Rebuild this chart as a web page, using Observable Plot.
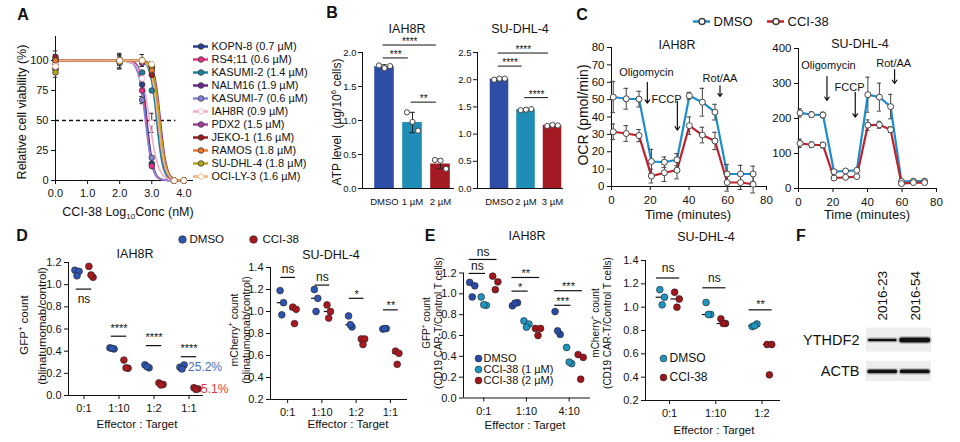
<!DOCTYPE html>
<html><head><meta charset="utf-8">
<script src="https://cdn.jsdelivr.net/npm/d3@7"></script>
<script src="https://cdn.jsdelivr.net/npm/@observablehq/plot@0.6"></script>
<style>
body{margin:0;background:#fff;}
#fig{position:relative;width:960px;height:442px;overflow:hidden;font-family:Arial,"Liberation Sans",Helvetica,sans-serif;color:#111;background:#fff;}
#fig svg{position:absolute;overflow:visible;}
.lab{position:absolute;white-space:nowrap;line-height:1;}
.lab sub,.lab sup{font-size:65%;line-height:0;}
</style></head><body><div id="fig"></div><script>
// ================= DATA =================
// Panel A – dose response
const A_lines = ["KOPN-8","RS4;11","KASUMI-2","NALM16","KASUMI-7","IAH8R","PDX2","JEKO-1","RAMOS","SU-DHL-4","OCI-LY-3"];
const A_ic50 = ["0.7","0.6","1.4","1.9","0.6","0.9","1.5","1.6","1.8","1.8","1.6"];
const A_curveX = [0,2,2.4,2.5,2.6,2.7,2.8,2.9,3.0,3.1,3.2,3.3,3.4,3.5,3.6,3.8,4];
const A_curveY = [
  [100,100,99,97.4,93,82.5,62.8,37.2,17.5,7,2.6,1,0.4,0.1,0,0,0],
  [100,100,98.7,96.4,90.6,77.7,55.2,30.3,13.4,5.2,1.9,0.7,0.3,0.1,0,0,0],
  [100,100,100,99.9,99.7,99,97.4,93,82.5,62.8,37.2,17.5,7,2.6,1,0.1,0],
  [100,100,100,100,99.9,99.7,99.2,97.9,94.3,85.4,67.4,42.3,20.6,8.5,3.2,0.4,0],
  [100,100,97.5,94.1,86.3,71.5,50,28.5,13.7,5.9,2.5,1,0.4,0.2,0,0,0],
  [100,100,98,96,91.9,84.5,72.3,55.5,37.4,22.2,12,6.1,3,1.5,0.7,0.2,0],
  [100,100,100,100,99.8,99.4,98.4,95.6,88.8,74,50,26,11.2,4.4,1.6,0.2,0],
  [100,100,100,99.9,99.8,99.5,98.7,96.4,90.6,77.7,55.2,30.3,13.4,5.2,1.9,0.2,0],
  [100,100,100,100,99.9,99.7,99,97.4,93,82.5,62.8,37.2,17.5,7,2.6,0.3,0],
  [100,100,100,100,99.9,99.6,98.9,97,92.2,80.7,60.2,34.6,16,6.4,2.4,0.3,0],
  [100,100,100,99.9,99.7,99.2,97.9,94.8,87.3,72.4,50,27.6,12.7,5.2,2.1,0.3,0]
];
const A_doseX = [0,2,2.7,3,3.7,4];
const A_pointY = [
  [101,100,80,14,0,0],[97,100,75,12,0,0],[100,98,90,75,0,0],[93,100,100,95,0,0],
  [100,100,67,19,0,0],[98,99,85,48,0,0],[93,100,98,94,0,0],[103,100,100,88,0,0],
  [100,100,100,92,0,0],[90,99,100,96,0,0],[95,100,100,97,0,0]
];
const A_pointErr = [
  [4,6,0,0,0,0],[0,4,5,0,0,0],[0,5,0,0,0,0],[0,0,0,4,0,0],[0,0,3,0,0,0],[0,0,0,8,0,0],
  [0,0,0,0,0,0],[5,0,5,0,0,0],[0,0,0,0,0,0],[4,6,0,0,0,0],[0,0,0,0,0,0]
];

// Panel B – ATP level
const B_iah_cats = ["DMSO","1 µM","2 µM"];
const B_iah_mean = [1.79,0.97,0.36];
const B_iah_sd = [0.03,0.15,0.07];
const B_iah_reps = [[1.81,1.77,1.80],[1.12,0.98,0.85],[0.42,0.41,0.29]];
const B_iah_sigFrom = [0,0,1];
const B_iah_sigTo = [2,1,2];
const B_iah_sigY = [2.11,1.92,1.27];
const B_iah_sigLab = ["****","***","**"];
const B_su_cats = ["DMSO","2 µM","3 µM"];
const B_su_mean = [2.01,1.45,1.16];
const B_su_sd = [0.02,0.015,0.02];
const B_su_reps = [[2.00,2.02,2.02],[1.44,1.45,1.46],[1.15,1.17,1.16]];
const B_su_sigFrom = [0,0,1];
const B_su_sigTo = [2,1,2];
const B_su_sigY = [2.49,2.25,1.67];
const B_su_sigLab = ["****","****","****"];

// Panel C – OCR
const C_series = ["DMSO","CCI-38"];
const C_time = [0.9,7.6,14.2,20.6,27.3,33.8,40.2,46.9,53.4,59.7,66.6,73.1];
const C_iah_dmso = [51.5,50.5,50.3,14.4,14.0,15.4,52.2,48.5,42.8,7.2,7.2,7.2];
const C_iah_dmsoErr = [9,6,4.5,7,3,3.5,2,8,4.5,5.5,5,4.5];
const C_iah_cci = [31.5,30.5,29.3,6.0,7.9,9.4,35.0,29.6,26.2,2.3,2.3,1.3];
const C_iah_cciErr = [4.5,4.5,3.5,4,5,5,5,4.5,5,5,4,5];
const C_su_dmso = [216,211,210,48,50,52,268,261,234,20,21,21];
const C_su_dmsoErr = [12,8,8,5,4,4,50,40,35,8,5,5];
const C_su_cci = [129,125,124,30,32,34,181,182,168,14,17,17];
const C_su_cciErr = [12,8,8,4,4,4,15,10,8,5,3,3];
const C_drugs = ["Oligomycin","FCCP","Rot/AA"];
const C_iah_arrowX = [18.5,34,56];
const C_iah_arrowTop = [60,49,58];
const C_iah_arrowTip = [48,32.5,51.8];
const C_iah_labelX = [18,28.4,56];
const C_iah_labelY = [65.6,50.3,62.4];
const C_su_arrowX = [16.5,32.9,55.7];
const C_su_arrowTop = [320,275,340];
const C_su_arrowTip = [252,204,300];
const C_su_labelX = [17.4,29.6,55.2];
const C_su_labelY = [352,288,357];

// Panel D – blinatumomab killing
const D_groups = ["DMSO","CCI-38"];
const D_iah_ratios = ["0:1","1:10","1:2","1:1"];
const D_iah_dmso = [[1.13,1.12,1.08],[0.43,0.42,0.425],[0.277,0.25,0.26],[0.255,0.275,0.24]];
const D_iah_cci = [[1.165,1.066,1.087],[0.32,0.246,0.25],[0.114,0.10,0.095],[0.07,0.06,0.055]];
const D_iah_sigY = [0.96,0.535,0.45,0.35];
const D_iah_sigLab = ["ns","****","****","****"];
const D_iah_pct = ["25.2%","5.1%"];
const D_su_ratios = ["0:1","1:10","1:2","1:1"];
const D_su_dmso = [[1.19,1.08,0.97],[1.2,1.12,1.0],[0.96,0.86,0.88],[0.84,0.845,0.845]];
const D_su_cci = [[1.04,1.02,0.89],[1.06,1.0,0.94],[0.75,0.75,0.70],[0.64,0.62,0.52]];
const D_su_sigY = [1.31,1.24,1.12,1.015];
const D_su_sigLab = ["ns","ns","*","**"];

// Panel E – CAR-T killing
const E_iah_groups = ["DMSO","CCI-38 (1 µM)","CCI-38 (2 µM)"];
const E_iah_ratios = ["0:1","1:10","4:10"];
const E_iah_dmso = [[1.11,1.077,0.97],[0.885,0.915,0.91],[0.83,0.61,0.645]];
const E_iah_cci1 = [[0.97,0.89,0.895],[0.74,0.71,0.68],[0.485,0.33,0.345]];
const E_iah_cci2 = [[1.17,1.115,1.04],[0.667,0.667,0.60],[0.417,0.39,0.18]];
const E_iah_sigGroup = [0,0,1,1,2,2];
const E_iah_sigTo = [2,1,2,1,2,1];
const E_iah_sigY = [1.33,1.196,1.157,1.026,1.03,0.89];
const E_iah_sigLab = ["ns","ns","**","*","***","***"];
const E_su_groups = ["DMSO","CCI-38"];
const E_su_ratios = ["0:1","1:10","1:2"];
const E_su_dmso = [[1.15,1.085,1.02],[1.04,0.937,0.937],[0.834,0.856,0.84]];
const E_su_cci = [[1.128,1.07,1.0],[0.90,0.86,0.86],[0.68,0.68,0.42]];
const E_su_sigY = [1.25,1.166,0.977];
const E_su_sigLab = ["ns","ns","**"];

// Panel F – western blot
const F_lanes = ["2016-23","2016-54"];
const F_proteins = ["YTHDF2","ACTB"];
const F_intensity = [[0.45,1.0],[0.72,0.74]];

// ================= STYLE =================
const FONT = 'Arial, "Liberation Sans", Helvetica, sans-serif';
const palA = ["#2b3f93","#e8308a","#1b84a6","#6d2b8f","#8585d6","#f5a9c8","#a0409e","#9c1c24","#ee7a2a","#b5a812","#f6b27a"];
const openA = new Set(["IAH8R","OCI-LY-3"]);
const palB = ["#2e4da6","#1f8db5","#a31a22"];
const palC = ["#1b8ed0","#c1212b"];
const palD = ["#2d55b0","#a8181f"];
const palE1 = ["#2a4aa8","#1f96c0","#a0141b"];
const palE2 = ["#1f96c0","#a0141b"];

const fig = document.getElementById("fig");
function place(opts, left, top) {
  const {fontSize = 11, ...rest} = opts;
  const svg = Plot.plot({...rest, style: {fontFamily: FONT, fontSize: fontSize + "px", background: "transparent", overflow: "visible", color: "#111"}});
  svg.style.position = "absolute";
  svg.style.left = left + "px";
  svg.style.top = top + "px";
  fig.appendChild(svg);
  return svg;
}
function label(html, x, y, o = {}) {
  const d = document.createElement("div");
  d.className = "lab";
  d.innerHTML = html;
  d.style.left = x + "px";
  d.style.top = y + "px";
  d.style.fontSize = (o.size || 12) + "px";
  if (o.weight) d.style.fontWeight = o.weight;
  if (o.color) d.style.color = o.color;
  const ax = o.anchor === "start" ? "0" : o.anchor === "end" ? "-100%" : "-50%";
  d.style.transform = `translate(${ax},-50%)` + (o.rotate ? ` rotate(${o.rotate}deg)` : "");
  fig.appendChild(d);
}

// ================= PANEL A =================
{
  const curves = A_lines.flatMap((name, i) => A_curveX.map((x, j) => ({name, i, x, y: A_curveY[i][j]})));
  const pts = A_lines.flatMap((name, i) => A_doseX.map((x, j) => ({name, i, x, y: A_pointY[i][j], e: A_pointErr[i][j]})));
  const eb = pts.filter(d => d.e > 0);
  place({
    width: 200, height: 215, marginLeft: 55, marginRight: 7, marginTop: 36, marginBottom: 35, fontSize: 11,
    x: {domain: [0, 4.3], ticks: [0,1,2,3,4], tickSize: 4, tickPadding: 5, label: null},
    y: {domain: [0, 120], ticks: [0,25,50,75,100], tickSize: 4, tickPadding: 3, label: null},
    marks: [
      Plot.ruleX([0]), Plot.ruleY([0]),
      Plot.ruleY([50], {x1: 0, x2: 3.75, strokeDasharray: "4,3", strokeWidth: 1.3}),
      Plot.ruleX(eb, {x: "x", y1: d => d.y - d.e, y2: d => d.y + d.e, stroke: "#333"}),
      Plot.ruleY(eb, {y: d => d.y + d.e, x1: d => d.x - 0.07, x2: d => d.x + 0.07, stroke: "#333"}),
      Plot.ruleY(eb, {y: d => d.y - d.e, x1: d => d.x - 0.07, x2: d => d.x + 0.07, stroke: "#333"}),
      Plot.line(curves, {x: "x", y: "y", z: "name", stroke: d => palA[d.i], strokeWidth: 1.6, curve: "monotone-x"}),
      Plot.dot(pts, {x: "x", y: "y", r: 2.8, fill: d => openA.has(d.name) ? "white" : palA[d.i], stroke: d => openA.has(d.name) ? palA[d.i] : "#333", strokeWidth: 0.8})
    ]
  }, 0, 0);
  // legend
  place({
    width: 130, height: 146, marginLeft: 0, marginRight: 0, marginTop: 7, marginBottom: 7, fontSize: 11,
    x: {domain: [0, 130], axis: null},
    y: {type: "point", domain: A_lines, padding: 0, axis: null},
    marks: [
      Plot.ruleY(A_lines, {y: d => d, x1: 3, x2: 18, stroke: (d, i) => palA[i], strokeWidth: 2.5}),
      Plot.dot(A_lines, {y: d => d, x: 10.5, r: 2.8, fill: (d, i) => openA.has(d) ? "white" : palA[i], stroke: (d, i) => openA.has(d) ? palA[i] : "#333", strokeWidth: 0.8}),
      Plot.text(A_lines, {y: d => d, x: 21, text: (d, i) => `${d} (${A_ic50[i]} µM)`, textAnchor: "start", fontSize: 11})
    ]
  }, 190, 38);
  label("<b>A</b>", 23, 15, {size: 16});
  label("Relative cell viability (%)", 22, 112, {size: 12.5, rotate: -90});
  label("CCI-38 Log<sub>10</sub>Conc (nM)", 128, 212, {size: 12.5});
}

// ================= PANEL B =================
function bars(c) {
  const bd = c.cats.map((cat, i) => ({i, m: c.mean[i], s: c.sd[i]}));
  const jit = [-0.2, 0, 0.2];
  const dots = c.reps.flatMap((rr, i) => rr.map((v, r) => ({x: i + jit[r], y: v})));
  const sig = c.sigY.map((y, k) => ({y, x1: c.sigFrom[k] - 0.05, x2: c.sigTo[k] - 0.15, lab: c.sigLab[k]}));
  place({
    width: c.width, height: 215, marginLeft: c.ml, marginRight: c.mr, marginTop: 52, marginBottom: 27, fontSize: 9.5,
    x: {domain: c.xDom, ticks: d3.range(c.cats.length), tickFormat: i => c.cats[i], tickSize: 0, tickPadding: 10, label: null},
    y: {domain: [0, c.yMax], ticks: d3.range(0, c.yMax + 0.01, 0.5), tickFormat: ".1f", tickSize: 4, tickPadding: 2, label: null},
    marks: [
      Plot.rect(bd, {x1: d => d.i - 0.35, x2: d => d.i + 0.35, y1: 0, y2: "m", fill: d => palB[d.i]}),
      Plot.ruleX(bd, {x: "i", y1: d => d.m - d.s, y2: d => d.m + d.s, stroke: "#222"}),
      Plot.ruleY(bd, {y: d => d.m + d.s, x1: d => d.i - 0.1, x2: d => d.i + 0.1, stroke: "#222"}),
      Plot.ruleY(bd, {y: d => d.m - d.s, x1: d => d.i - 0.1, x2: d => d.i + 0.1, stroke: "#222"}),
      Plot.dot(dots, {x: "x", y: "y", r: 2.6, fill: "white", stroke: "#333", strokeWidth: 0.9}),
      Plot.ruleX([c.xDom[0]]), Plot.ruleY([0]),
      Plot.ruleY(sig, {y: "y", x1: "x1", x2: "x2", strokeWidth: 1}),
      Plot.text(sig, {x: d => (d.x1 + d.x2) / 2, y: "y", text: "lab", dy: -3, fontSize: 10})
    ]
  }, c.left, 0);
}
bars({cats: B_iah_cats, mean: B_iah_mean, sd: B_iah_sd, reps: B_iah_reps, sigFrom: B_iah_sigFrom, sigTo: B_iah_sigTo, sigY: B_iah_sigY, sigLab: B_iah_sigLab,
  yMax: 2, xDom: [-0.786, 2.5], left: 300, width: 160, ml: 62, mr: 6});
bars({cats: B_su_cats, mean: B_su_mean, sd: B_su_sd, reps: B_su_reps, sigFrom: B_su_sigFrom, sigTo: B_su_sigTo, sigY: B_su_sigY, sigLab: B_su_sigLab,
  yMax: 2.5, xDom: [-0.83, 2.415], left: 440, width: 130, ml: 37, mr: 7});
label("<b>B</b>", 332, 13, {size: 16});
label("IAH8R", 407, 29, {size: 12.5});
label("SU-DHL-4", 520, 29, {size: 12.5});
label("ATP level&nbsp; (µg/10<sup>6</sup> cells)", 337, 122, {size: 12, rotate: -90});

// ================= PANEL C =================
function ocr(c) {
  const rows = [];
  c.series.forEach((s, si) => C_time.forEach((t, j) => rows.push({t, v: s.v[j], e: s.e[j], si})));
  const ann = C_drugs.map((name, k) => ({name, ax: c.ax[k], top: c.top[k], tip: c.tip[k], lx: c.lx[k], ly: c.ly[k]}));
  place({
    width: c.width, height: 220, marginLeft: c.ml, marginRight: c.mr, marginTop: c.mt, marginBottom: c.mb, fontSize: 11.5,
    x: {domain: [0, 80], ticks: [0,20,40,60,80], tickSize: 4, tickPadding: 5, label: null},
    y: {domain: [0, c.yMax], ticks: d3.range(0, c.yMax + 1, c.yStep), tickSize: 4, tickPadding: 3, label: null},
    marks: [
      Plot.ruleX([0]), Plot.ruleY([0]),
      Plot.line(rows, {x: "t", y: "v", z: "si", stroke: d => palC[d.si], strokeWidth: 2.2}),
      Plot.ruleX(rows, {x: "t", y1: d => d.v - d.e, y2: d => d.v + d.e, stroke: "#444"}),
      Plot.ruleY(rows, {y: d => d.v + d.e, x1: d => d.t - 1.2, x2: d => d.t + 1.2, stroke: "#444"}),
      Plot.ruleY(rows, {y: d => d.v - d.e, x1: d => d.t - 1.2, x2: d => d.t + 1.2, stroke: "#444"}),
      Plot.dot(rows, {x: "t", y: "v", r: 3, fill: "white", stroke: "#444", strokeWidth: 1}),
      Plot.arrow(ann, {x1: "ax", y1: "top", x2: "ax", y2: "tip", headLength: 5, headAngle: 70, strokeWidth: 1.2, stroke: "#111"}),
      Plot.text(ann, {x: "lx", y: "ly", text: "name", fontSize: 11})
    ]
  }, c.left, 0);
}
ocr({series: [{v: C_iah_dmso, e: C_iah_dmsoErr}, {v: C_iah_cci, e: C_iah_cciErr}], yMax: 80, yStep: 10,
  ax: C_iah_arrowX, top: C_iah_arrowTop, tip: C_iah_arrowTip, lx: C_iah_labelX, ly: C_iah_labelY,
  left: 570, width: 205, ml: 41, mr: 9, mt: 47, mb: 34});
ocr({series: [{v: C_su_dmso, e: C_su_dmsoErr}, {v: C_su_cci, e: C_su_cciErr}], yMax: 400, yStep: 100,
  ax: C_su_arrowX, top: C_su_arrowTop, tip: C_su_arrowTip, lx: C_su_labelX, ly: C_su_labelY,
  left: 760, width: 190, ml: 38, mr: 14, mt: 48, mb: 32});
place({
  width: 150, height: 24, marginLeft: 0, marginRight: 0, marginTop: 0, marginBottom: 0, fontSize: 13,
  x: {domain: [0, 150], axis: null}, y: {domain: [0, 1], axis: null},
  marks: [
    Plot.ruleY(C_series, {y: 0.5, x1: (d, i) => 3 + 74 * i, x2: (d, i) => 20 + 74 * i, stroke: (d, i) => palC[i], strokeWidth: 2.5}),
    Plot.dot(C_series, {y: 0.5, x: (d, i) => 11.5 + 74 * i, r: 3, fill: "white", stroke: "#444"}),
    Plot.text(C_series, {y: 0.5, x: (d, i) => 23 + 74 * i, text: d => d, textAnchor: "start", fontSize: 13})
  ]
}, 690, 9);
label("<b>C</b>", 582, 15, {size: 16});
label("IAH8R", 677, 45, {size: 12.5});
label("SU-DHL-4", 860, 44, {size: 12.5});
label("OCR (pmol/min)", 583, 115, {size: 14, rotate: -90});
label("Time (minutes)", 688, 214, {size: 13});
label("Time (minutes)", 867, 214, {size: 13});

// ================= PANELS D & E (scatter) =================
function scatter(c) {
  const pts = [];
  c.series.forEach((s, si) => s.forEach((reps, g) => reps.forEach((v, r) => pts.push({x: g + c.offs[si] + c.jit[r], y: v, si}))));
  const meds = [];
  if (c.medians) c.series.forEach((s, si) => s.forEach((reps, g) => meds.push({x: g + c.offs[si], y: d3.median(reps)})));
  const sig = c.sig.y.map((y, k) => {
    const g = c.sig.g[k], x1 = g + c.offs[0] + c.sig.a, x2 = g + c.offs[c.sig.to[k]] + c.sig.b;
    return {y, x1, x2, xm: (x1 + x2) / 2, lab: c.sig.lab[k], below: c.sig.below ? c.sig.below[k] : false};
  });
  const ns = d => d.lab === "ns";
  place({
    width: c.width, height: c.height, marginLeft: c.ml, marginRight: c.mr, marginTop: c.mt, marginBottom: c.mb, fontSize: 11,
    x: {domain: c.xDom, ticks: d3.range(c.cats.length), tickFormat: i => c.cats[i], tickSize: 4, tickPadding: c.xPad, label: null},
    y: {domain: c.yDom, ticks: c.yTicks, tickFormat: ".1f", tickSize: 4, tickPadding: 3, label: null},
    marks: [
      Plot.ruleX([c.xDom[0]]), Plot.ruleY([c.yDom[0]]),
      Plot.ruleY(meds, {y: "y", x1: d => d.x - 0.13, x2: d => d.x + 0.13, strokeWidth: 1.2}),
      Plot.dot(pts, {x: "x", y: "y", r: 3.4, fill: d => c.colors[d.si], stroke: "#222", strokeWidth: 0.6}),
      Plot.ruleY(sig, {y: "y", x1: "x1", x2: "x2", strokeWidth: 1.2}),
      Plot.text(sig.filter(d => ns(d) && !d.below), {x: "xm", y: "y", text: "lab", dy: c.sig.dyNs, fontSize: 12}),
      Plot.text(sig.filter(d => ns(d) && d.below), {x: "xm", y: "y", text: "lab", dy: 10, fontSize: 12}),
      Plot.text(sig.filter(d => !ns(d)), {x: "xm", y: "y", text: "lab", dy: c.sig.dyStar, fontSize: 11}),
      ...(c.extra || [])
    ]
  }, c.left, c.top);
}
function dotLegend(names, colors, left, top, w, h, mt, mb, size, textDx) {
  place({
    width: w, height: h, marginLeft: 0, marginRight: 0, marginTop: mt, marginBottom: mb, fontSize: size,
    x: {domain: [0, w], axis: null}, y: {type: "point", domain: names, padding: 0, axis: null},
    marks: [
      Plot.dot(names, {y: d => d, x: 8, r: 3.4, fill: (d, i) => colors[i], stroke: "#222", strokeWidth: 0.6}),
      Plot.text(names, {y: d => d, x: 8 + textDx, text: d => d, textAnchor: "start", fontSize: size})
    ]
  }, left, top);
}

// D – IAH8R
scatter({
  cats: D_iah_ratios, series: [D_iah_dmso, D_iah_cci], colors: palD, offs: [-0.2, 0.2], jit: [-0.06, 0.06, 0],
  xDom: [-0.443, 3.414], yDom: [0, 1.2], yTicks: d3.range(0, 1.21, 0.2), xPad: 5,
  left: 0, top: 240, width: 215, height: 190, ml: 68, mr: 12, mt: 22, mb: 35,
  sig: {g: [0,1,2,3], to: [1,1,1,1], y: D_iah_sigY, lab: D_iah_sigLab, below: [true,false,false,false], a: -0.02, b: 0.02, dyNs: -8, dyStar: -8},
  extra: [
    Plot.text([D_iah_pct[0]], {x: 3 - 0.2, y: d3.median(D_iah_dmso[3]), text: d => d, dx: 6, textAnchor: "start", fill: "#4a6cc8", fontSize: 12}),
    Plot.text([D_iah_pct[1]], {x: 3 + 0.2, y: d3.median(D_iah_cci[3]), text: d => d, dx: 5, textAnchor: "start", fill: "#e53935", fontSize: 12})
  ]
});
// D – SU-DHL-4
scatter({
  cats: D_su_ratios, series: [D_su_dmso, D_su_cci], colors: palD, offs: [-0.17, 0.2], jit: [-0.05, 0.05, 0], medians: true,
  xDom: [-0.5, 3.5], yDom: [0.2, 1.4], yTicks: d3.range(0.2, 1.41, 0.2), xPad: 5,
  left: 200, top: 240, width: 210, height: 190, ml: 70, mr: 3, mt: 27, mb: 31,
  sig: {g: [0,1,2,3], to: [1,1,1,1], y: D_su_sigY, lab: D_su_sigLab, a: -0.03, b: 0.03, dyNs: -8, dyStar: -4}
});
place({
  width: 140, height: 20, marginLeft: 0, marginRight: 0, marginTop: 0, marginBottom: 0, fontSize: 11.5,
  x: {domain: [0, 140], axis: null}, y: {domain: [0, 1], axis: null},
  marks: [
    Plot.dot(D_groups, {y: 0.5, x: (d, i) => 12 + 71 * i, r: 3.8, fill: (d, i) => palD[i], stroke: "#222", strokeWidth: 0.6}),
    Plot.text(D_groups, {y: 0.5, x: (d, i) => 19 + 73 * i, text: d => d, textAnchor: "start", fontSize: 11.5})
  ]
}, 170, 229);
label("<b>D</b>", 22, 236, {size: 16});
label("IAH8R", 135, 254, {size: 12.5});
label("SU-DHL-4", 331, 255, {size: 12.5});
label("GFP<sup>+</sup> count", 25, 325, {size: 11.5, rotate: -90});
label("(blinatumomab/control)", 43, 326, {size: 11.5, rotate: -90});
label("mCherry<sup>+</sup> count", 234, 330, {size: 10.5, rotate: -90});
label("(blinatumomab/control)", 246, 330, {size: 10.5, rotate: -90});
label("Effector : Target", 137, 425, {size: 11.5});
label("Effector : Target", 348, 425, {size: 11.5});

// E – IAH8R
scatter({
  cats: E_iah_ratios, series: [E_iah_dmso, E_iah_cci1, E_iah_cci2], colors: palE1, offs: [-0.27, 0, 0.27], jit: [-0.06, 0.06, 0],
  xDom: [-0.475, 2.5], yDom: [0, 1.2], yTicks: d3.range(0, 1.21, 0.2), xPad: 5,
  left: 400, top: 240, width: 195, height: 190, ml: 63, mr: 5, mt: 32.5, mb: 32.5,
  sig: {g: E_iah_sigGroup, to: E_iah_sigTo, y: E_iah_sigY, lab: E_iah_sigLab, a: -0.07, b: 0.04, dyNs: -7, dyStar: -4}
});
dotLegend(E_iah_groups, palE1, 470, 348, 120, 40, 9, 8, 11, 5);
// E – SU-DHL-4
scatter({
  cats: E_su_ratios, series: [E_su_dmso, E_su_cci], colors: palE2, offs: [-0.16, 0.16], jit: [-0.05, 0.05, 0], medians: true,
  xDom: [-0.52, 2.4], yDom: [0.2, 1.4], yTicks: d3.range(0.2, 1.41, 0.2), xPad: 5,
  left: 580, top: 240, width: 205, height: 190, ml: 65, mr: 5, mt: 20, mb: 30,
  sig: {g: [0,1,2], to: [1,1,1], y: E_su_sigY, lab: E_su_sigLab, a: -0.12, b: 0.06, dyNs: -10, dyStar: -5}
});
dotLegend(E_su_groups, palE2, 655, 348, 100, 40, 9.7, 11.3, 12, 6);
label("<b>E</b>", 430, 236, {size: 16});
label("IAH8R", 527, 236, {size: 12.5});
label("SU-DHL-4", 706, 237, {size: 12.5});
label("GFP<sup>+</sup> count", 427, 323, {size: 10, rotate: -90});
label("(CD19 CAR-T/Control T cells)", 439, 323, {size: 10, rotate: -90});
label("mCherry<sup>+</sup> count", 596, 323, {size: 10, rotate: -90});
label("(CD19 CAR-T/Control T cells)", 608, 323, {size: 10, rotate: -90});
label("Effector : Target", 525, 426, {size: 11.5});
label("Effector : Target", 714, 431, {size: 11.5});

// ================= PANEL F =================
{
  const cells = F_proteins.flatMap((p, pi) => F_lanes.map((l, li) => ({pi, li, I: F_intensity[pi][li]})));
  place({
    width: 150, height: 170, marginLeft: 76, marginRight: 9, marginTop: 95, marginBottom: 13, fontSize: 13,
    x: {domain: [-0.5, 1.5], axis: null},
    y: {domain: [1.51, -0.46], axis: null},
    marks: [
      Plot.rect(cells, {x1: d => d.li - 0.5, x2: d => d.li + 0.5, y1: d => d.pi - (d.pi ? 0.32 : 0.38), y2: d => d.pi + (d.pi ? 0.32 : 0.38), fill: "#ededed"}),
      Plot.ruleY(cells, {y: "pi", x1: d => d.li - 0.4, x2: d => d.li + 0.4, strokeWidth: d => 3 + 5 * d.I, stroke: "#555", strokeOpacity: 0.3, strokeLinecap: "round"}),
      Plot.ruleY(cells, {y: "pi", x1: d => d.li - 0.4, x2: d => d.li + 0.4, strokeWidth: d => 0.5 + 4.5 * d.I, stroke: "#111", strokeLinecap: "round"}),
      Plot.text(F_lanes, {x: (d, i) => i, y: -0.46, text: d => d, rotate: -90, textAnchor: "start", dy: -5, fontSize: 13.5}),
      Plot.text(F_proteins, {y: (d, i) => i, frameAnchor: "left", dx: -7, text: d => d, textAnchor: "end", fontSize: 14.5})
    ]
  }, 790, 230);
  label("<b>F</b>", 801, 236, {size: 16});
}
</script></body></html>
